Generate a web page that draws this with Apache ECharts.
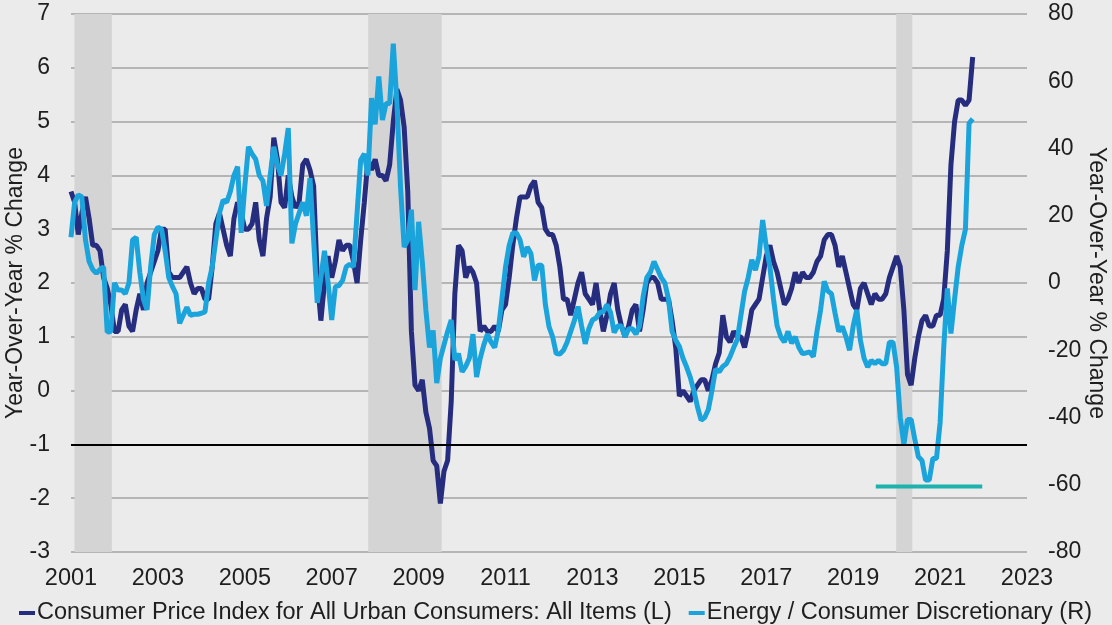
<!DOCTYPE html>
<html>
<head>
<meta charset="utf-8">
<script src="https://cdn.jsdelivr.net/npm/echarts@6/dist/echarts.min.js"></script>
<style>
html,body{margin:0;padding:0;background:#EBEBEB;}
#chart{width:1112px;height:625px;}
</style>
</head>
<body>
<div id="chart"></div>
<script>
// Monthly data, starting January 2001
const startYear = 2001;
const cpiName = 'Consumer Price Index for All Urban Consumers: All Items (L)';
const energyName = 'Energy / Consumer Discretionary (R)';

// CPI YoY % (left axis)
const cpi = [
  3.7,3.5,2.9,3.3,3.6,3.2,2.7,2.7,2.6,2.1,1.9,1.6,
  1.1,1.1,1.5,1.6,1.2,1.1,1.5,1.8,1.5,2.0,2.2,2.4,
  2.6,3.0,3.0,2.2,2.1,2.1,2.1,2.2,2.3,2.0,1.8,1.9,
  1.9,1.7,1.7,2.3,3.1,3.3,3.0,2.7,2.5,3.2,3.5,3.3,
  3.0,3.0,3.1,3.5,2.8,2.5,3.2,3.6,4.7,4.3,3.5,3.4,
  4.0,3.6,3.4,3.5,4.2,4.3,4.1,3.8,2.1,1.3,2.0,2.5,
  2.1,2.4,2.8,2.6,2.7,2.7,2.4,2.0,2.8,3.5,4.3,4.1,
  4.3,4.0,4.0,3.9,4.2,5.0,5.6,5.4,4.9,3.7,1.1,0.1,
  0.0,0.2,-0.4,-0.7,-1.3,-1.4,-2.1,-1.5,-1.3,-0.2,1.8,2.7,
  2.6,2.1,2.3,2.2,2.0,1.1,1.2,1.1,1.1,1.2,1.1,1.5,
  1.6,2.1,2.7,3.2,3.6,3.6,3.6,3.8,3.9,3.5,3.4,3.0,
  2.9,2.9,2.7,2.3,1.7,1.7,1.4,1.7,2.0,2.2,1.8,1.7,
  1.6,2.0,1.5,1.1,1.4,1.8,2.0,1.5,1.2,1.0,1.2,1.5,
  1.6,1.1,1.5,2.0,2.1,2.1,2.0,1.7,1.7,1.7,1.3,0.8,
  -0.1,0.0,-0.1,-0.2,0.0,0.1,0.2,0.2,0.0,0.2,0.5,0.7,
  1.4,1.0,0.9,1.1,1.0,1.0,0.8,1.1,1.5,1.6,1.7,2.1,
  2.5,2.7,2.4,2.2,1.9,1.6,1.7,1.9,2.2,2.0,2.2,2.1,
  2.1,2.2,2.4,2.5,2.8,2.9,2.9,2.7,2.3,2.5,2.2,1.9,
  1.6,1.5,1.9,2.0,1.8,1.6,1.8,1.7,1.7,1.8,2.1,2.3,
  2.5,2.3,1.5,0.3,0.1,0.6,1.0,1.3,1.4,1.2,1.2,1.4,
  1.4,1.7,2.6,4.2,5.0,5.4,5.4,5.3,5.4,6.2
];

// Energy / Consumer Discretionary YoY % (right axis)
const energyDisc = [
  13.6,24,26.2,25.6,12.8,6.4,4,2.9,4,4.8,-14.6,-14.4,
  0,-2.1,-2.1,-3.2,0,12.8,13.6,3.2,-4.8,-8,4.8,14.4,
  16.6,16,9.6,1.6,-1,-3.2,-12,-9.6,-7.2,-9.6,-9.3,-9.3,
  -9,-8.6,0,4.8,12.8,20.8,24.6,24,27.2,32,34.6,14.9,
  28.8,40.5,38.4,36.8,32,30.4,22.9,32,40.5,35.2,32,38.4,
  46.1,11.8,17.6,20.8,24,20,31.2,12.8,-5.9,1.6,9.6,0,
  -11,-1.1,-0.8,0.8,4.8,5.6,4.8,20.8,36.6,38.4,32,55,
  47.2,61.4,48.5,53.4,53.4,71.2,53.6,28.6,10.7,12.8,21.8,-2.1,
  18.2,6.4,-8,-19.2,-14.1,-29.8,-22.4,-18.4,-14.4,-11,-22.9,-21,
  -26.4,-24.8,-22.4,-15.2,-28,-22.4,-18.4,-15.2,-17.6,-19.2,-14.1,-4.8,
  4.8,11.2,14.9,14.9,12.8,7.8,10.7,8.8,0.8,5.3,5.3,-6.4,
  -13,-16,-21,-21.1,-20,-17.6,-14.4,-11.2,-7,-12.8,-18.1,-13.6,
  -11,-10.4,-8.8,-8.5,-6.4,-8.8,-14.7,-12.8,-12.8,-16,-13.6,-13.6,
  -15.2,-12.8,-4,1.6,3.2,6.4,4,1.6,0,-4.8,-14.4,-17,
  -18.9,-22.4,-25,-28,-32,-36.8,-40.8,-40,-37.6,-32,-25.6,-26.4,
  -24.8,-24,-21.9,-19.2,-16.8,-9.6,-2.6,1.6,6.9,3.8,8,18.7,
  10.7,4.8,-4.8,-12.8,-16,-17.6,-14.4,-17.9,-16,-19.2,-21,-20.8,
  -20.5,-21.9,-14.4,-8,0.5,-2.4,-3.2,-9,-14.4,-13,-16,-20,
  -12.8,-8,-17,-22.4,-25,-23,-24,-23,-24,-24,-17.6,-17.6,
  -25,-40,-48,-40.6,-40.6,-46.4,-51.7,-52.8,-58.6,-58.6,-52.2,-52.2,
  -41.6,-19.2,-1.6,-15,-4.8,4.8,11.2,16,47.5,48.8
];

// Recession periods (decimal years)
const recessions = [[2001.08, 2001.94], [2007.84, 2009.53], [2019.99, 2020.36]];
// Reference lines
const leftRefLevel = -1;                 // black line, left axis
const floorLevel = -60.5;                // teal line, right axis
const floorRange = [2019.52, 2021.97];
// Axis ticks
const xTicks = {min: 2001, max: 2023, step: 2};
const leftTicks = {min: -3, max: 7, step: 1};
const rightTicks = {min: -80, max: 80, step: 20};

const toPairs = arr => arr.map((v, i) => [startYear + i / 12, v]);

const textColor = '#1e1e1e';
const font = '"Liberation Sans", Arial, sans-serif';

const chart = echarts.init(document.getElementById('chart'));
chart.setOption({
  backgroundColor: '#EBEBEB',
  animation: false,
  textStyle: {fontFamily: font},
  grid: {left: 71, right: 85, top: 14, bottom: 73, outerBoundsMode: 'none', containLabel: false},
  legend: {
    data: [cpiName, energyName],
    left: 14, top: 596,
    icon: 'rect', itemWidth: 16, itemHeight: 4, itemGap: 17,
    textStyle: {fontSize: 23.5, color: textColor, fontFamily: font, padding: [0, 0, 0, -3]}
  },
  xAxis: {
    type: 'value', min: xTicks.min, max: xTicks.max, interval: xTicks.step,
    axisLine: {show: false}, axisTick: {show: false}, splitLine: {show: false},
    axisLabel: {formatter: v => String(v), fontSize: 23.5, color: textColor, margin: 15}
  },
  yAxis: [
    {
      type: 'value', position: 'left', min: leftTicks.min, max: leftTicks.max, interval: leftTicks.step,
      name: 'Year-Over-Year % Change', nameLocation: 'middle', nameRotate: 90, nameGap: 44,
      nameMoveOverlap: false,
      nameTextStyle: {fontSize: 23, color: textColor},
      axisLine: {show: false}, axisTick: {show: false},
      axisLabel: {fontSize: 23, color: textColor, margin: 21},
      splitLine: {lineStyle: {color: '#A3A3A3', width: 1.5}}
    },
    {
      type: 'value', position: 'right', min: rightTicks.min, max: rightTicks.max, interval: rightTicks.step,
      name: 'Year-Over-Year % Change', nameLocation: 'middle', nameRotate: -90, nameGap: 58,
      nameMoveOverlap: false,
      nameTextStyle: {fontSize: 23, color: textColor},
      axisLine: {show: false}, axisTick: {show: false},
      axisLabel: {fontSize: 23, color: textColor, margin: 21},
      splitLine: {show: false}
    }
  ],
  series: [
    {
      name: cpiName, type: 'line', yAxisIndex: 0, data: toPairs(cpi),
      showSymbol: false, color: '#262D7E',
      lineStyle: {width: 5, color: '#262D7E'},
      markArea: {
        silent: true,
        itemStyle: {color: '#D4D4D4'},
        data: recessions.map(r => [{xAxis: r[0]}, {xAxis: r[1]}])
      },
      markLine: {
        silent: true, symbol: 'none', label: {show: false},
        lineStyle: {color: '#000000', width: 2, type: 'solid'},
        data: [{yAxis: leftRefLevel}]
      }
    },
    {
      name: energyName, type: 'line', yAxisIndex: 1, data: toPairs(energyDisc),
      showSymbol: false, color: '#1BA3DB',
      lineStyle: {width: 5, color: '#1BA3DB'}
    },
    {
      name: 'floor', type: 'line', yAxisIndex: 1,
      data: floorRange.map(x => [x, floorLevel]),
      showSymbol: false, color: '#1DB2AE',
      lineStyle: {width: 4, color: '#1DB2AE'}
    }
  ]
});
</script>
</body>
</html>
